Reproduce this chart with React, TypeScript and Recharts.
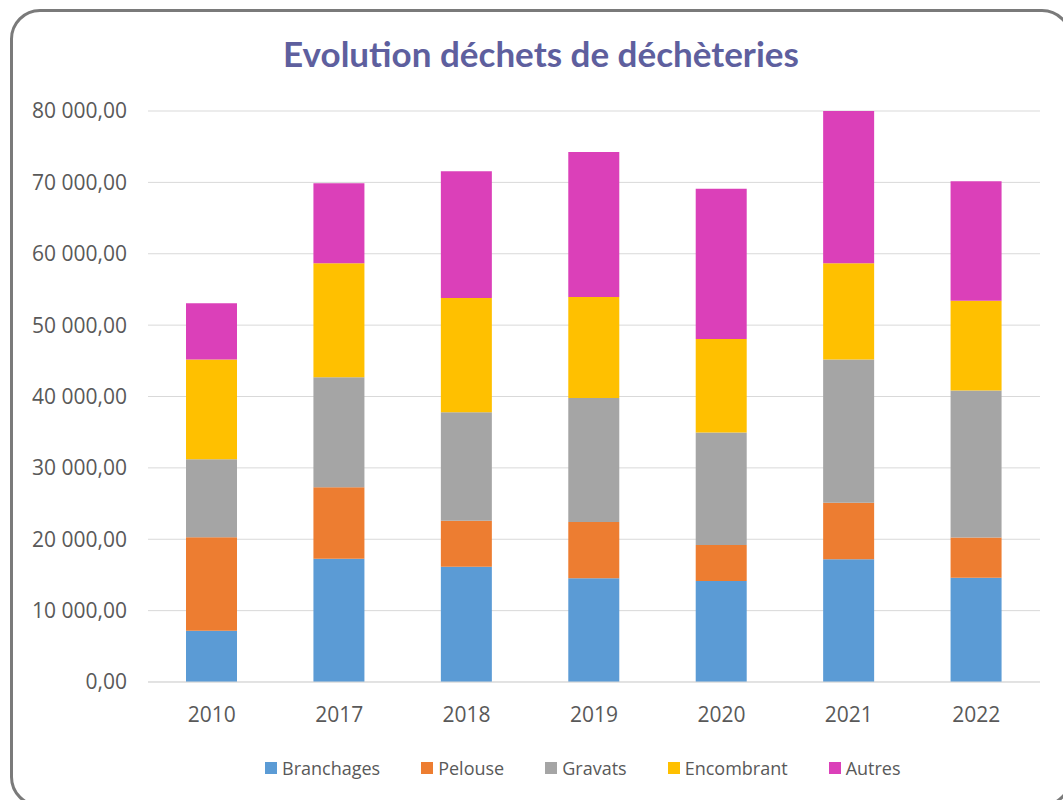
import React from 'react';
import { BarChart, Bar, XAxis, YAxis, CartesianGrid } from 'recharts';

// tonnages par année (lecture du graphique)
const years = ['2010', '2017', '2018', '2019', '2020', '2021', '2022'];
const branchages = [7180, 17260, 16150, 14550, 14150, 17200, 14600];
const pelouse = [13110, 10030, 6450, 7850, 5050, 7900, 5660];
const gravats = [10910, 15390, 15200, 17400, 15750, 20100, 20590];
const encombrant = [14000, 16000, 16000, 14150, 13100, 13460, 12580];
const autres = [7880, 11200, 17750, 20300, 21050, 21340, 16720];
const yTicks = [0, 10000, 20000, 30000, 40000, 50000, 60000, 70000, 80000];

const SERIES = [
  { key: 'Branchages', values: branchages, color: '#5B9BD5' },
  { key: 'Pelouse', values: pelouse, color: '#ED7D31' },
  { key: 'Gravats', values: gravats, color: '#A5A5A5' },
  { key: 'Encombrant', values: encombrant, color: '#FFC000' },
  { key: 'Autres', values: autres, color: '#DB40B9' },
];

const data = years.map((year, i) => {
  const row: Record<string, string | number> = { year };
  SERIES.forEach(s => { row[s.key] = s.values[i]; });
  return row;
});

const FONT = '"Open Sans", sans-serif';

const formatNumber = (v: number) => {
  const int = Math.round(v).toString().replace(/\B(?=(\d{3})+(?!\d))/g, ' ');
  return `${int},00`;
};

export default function App() {
  return (
    <div style={{ position: 'fixed', left: 0, top: 0, width: 1063, height: 800, overflow: 'hidden', background: '#fff' }}>
      <div
        style={{
          position: 'absolute', left: 10, top: 9, width: 1062, height: 798,
          border: '3px solid #7a7a7a', borderRadius: 30, boxSizing: 'border-box',
        }}
      />
      <div
        style={{
          position: 'absolute', left: 0, top: 36, width: 1082, textAlign: 'center', lineHeight: 1,
          fontFamily: 'Lato, sans-serif', fontWeight: 'bold', fontSize: 35, color: '#5E5F9E',
        }}
      >
        Evolution déchets de déchèteries
      </div>
      <div style={{ position: 'absolute', left: 0, top: 0 }}>
        <BarChart width={1063} height={800} data={data} margin={{ top: 111, right: 23, bottom: 88, left: 0 }} barSize={51}>
          <CartesianGrid vertical={false} stroke="#d9d9d9" />
          <XAxis
            dataKey="year"
            height={30}
            axisLine={{ stroke: '#d9d9d9' }}
            tickLine={false}
            tickSize={0}
            tickMargin={25}
            tick={{ fill: '#595959', fontSize: 21, fontFamily: FONT }}
          />
          <YAxis
            width={148}
            domain={[0, 80000]}
            ticks={yTicks}
            interval={0}
            axisLine={false}
            tickLine={false}
            tickSize={0}
            tickMargin={21}
            tickFormatter={formatNumber}
            tick={{ fill: '#595959', fontSize: 21, fontFamily: FONT }}
          />
          {SERIES.map(s => (
            <Bar key={s.key} dataKey={s.key} stackId="a" fill={s.color} isAnimationActive={false} />
          ))}
        </BarChart>
      </div>
      <div
        style={{
          position: 'absolute', left: 265, top: 756, height: 24, display: 'flex', alignItems: 'center',
          fontFamily: FONT, fontSize: 18, color: '#595959',
        }}
      >
        {SERIES.map(s => (
          <div key={s.key} style={{ display: 'flex', alignItems: 'center', marginRight: 41 }}>
            <span style={{ width: 12, height: 12, background: s.color, display: 'inline-block', marginRight: 5 }} />
            <span>{s.key}</span>
          </div>
        ))}
      </div>
    </div>
  );
}
